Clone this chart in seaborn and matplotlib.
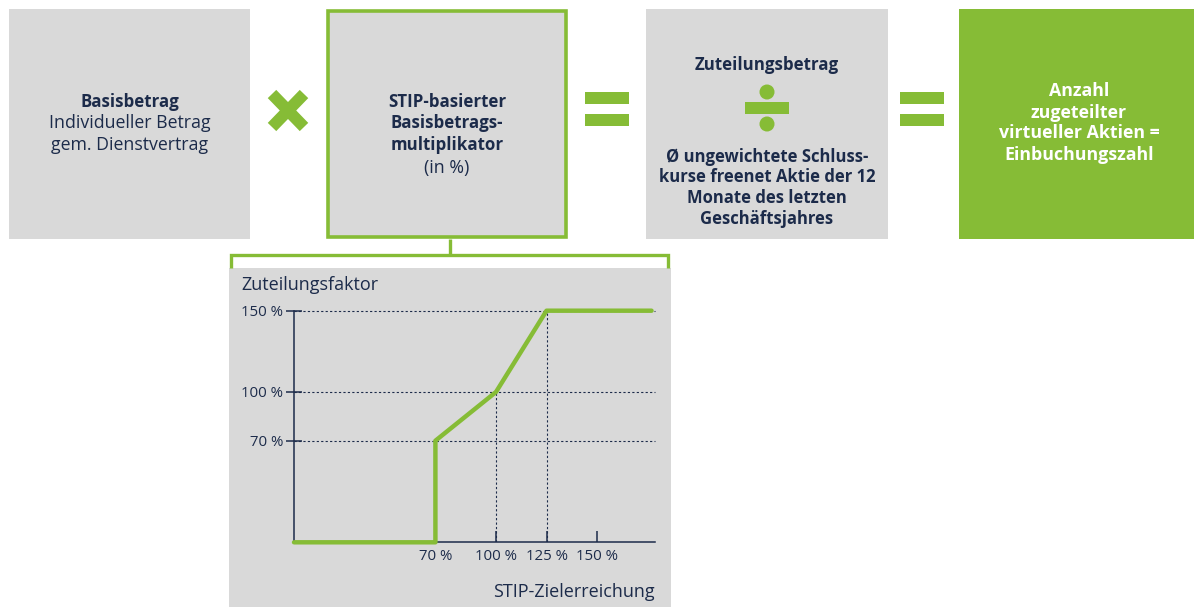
import numpy as np
import matplotlib
matplotlib.use("Agg")
import matplotlib.pyplot as plt
import seaborn as sns
from matplotlib.patches import Rectangle, Circle

# ---------------- data ----------------
x_achievement = [0, 70, 70, 100, 125, 177]      # STIP-Zielerreichung (%)
y_factor = [0, 0, 70, 100, 150, 150]            # Zuteilungsfaktor (%)
x_tick_values = [70, 100, 125, 150]
x_tick_labels = ["70 %", "100 %", "125 %", "150 %"]
y_tick_values = [70, 100, 150]
y_tick_labels = ["70 %", "100 %", "150 %"]
drop_x = [100, 125]
drop_y = [100, 150]

# ---------------- style ----------------
sns.set_theme(style="white")
plt.rcParams["font.family"] = ["Open Sans", "DejaVu Sans"]
GREEN = "#86bc36"
GRAY = "#d9d9d9"
NAVY = "#1c2b4a"

W, H = 1194, 607
fig = plt.figure(figsize=(W / 100, H / 100), dpi=100)
fig.patch.set_facecolor("white")

# background / diagram layer in pixel coordinates
bg = fig.add_axes([0, 0, 1, 1], zorder=0)
bg.set_xlim(0, W)
bg.set_ylim(H, 0)
bg.axis("off")

# boxes
bg.add_patch(Rectangle((9, 9), 241, 230, facecolor=GRAY, edgecolor="none"))
bg.add_patch(Rectangle((328, 11), 238, 226, facecolor=GRAY, edgecolor=GREEN, linewidth=2.6))
bg.add_patch(Rectangle((646, 9), 242, 230, facecolor=GRAY, edgecolor="none"))
bg.add_patch(Rectangle((959, 9), 235, 230, facecolor=GREEN, edgecolor="none"))

# multiply sign
bg.plot([272, 304], [94, 127], color=GREEN, lw=8.5, solid_capstyle="butt")
bg.plot([272, 304], [127, 94], color=GREEN, lw=8.5, solid_capstyle="butt")

# equals signs
for x0 in (585, 900):
    bg.add_patch(Rectangle((x0, 92), 44, 12, facecolor=GREEN, edgecolor="none"))
    bg.add_patch(Rectangle((x0, 114), 44, 12, facecolor=GREEN, edgecolor="none"))

# division sign
bg.add_patch(Rectangle((745, 102), 44, 12, facecolor=GREEN, edgecolor="none"))
bg.add_patch(Circle((767, 92), 7.5, facecolor=GREEN, edgecolor="none"))
bg.add_patch(Circle((767, 124), 7.5, facecolor=GREEN, edgecolor="none"))

# connector bracket
bg.plot([450, 450], [239, 255], color=GREEN, lw=2.4, solid_capstyle="butt")
bg.plot([231, 231, 668, 668], [268, 255, 255, 268], color=GREEN, lw=2.4,
        solid_joinstyle="miter", solid_capstyle="butt")

# chart panel
bg.add_patch(Rectangle((229, 268), 442, 339, facecolor=GRAY, edgecolor="none"))

FB = 12.2   # bold size
FR = 12.8   # regular size
# box 1 text
bg.text(130, 102, "Basisbetrag", ha="center", va="center", fontsize=FB, fontweight="bold", color=NAVY)
bg.text(130, 123.5, "Individueller Betrag", ha="center", va="center", fontsize=FR, color=NAVY)
bg.text(130, 145, "gem. Dienstvertrag", ha="center", va="center", fontsize=FR, color=NAVY)

# box 2 text
bg.text(447, 102, "STIP-basierter", ha="center", va="center", fontsize=FB, fontweight="bold", color=NAVY)
bg.text(447, 123.5, "Basisbetrags-", ha="center", va="center", fontsize=FB, fontweight="bold", color=NAVY)
bg.text(447, 145, "multiplikator", ha="center", va="center", fontsize=FB, fontweight="bold", color=NAVY)
bg.text(447, 168, "(in %)", ha="center", va="center", fontsize=FR, color=NAVY)

# box 3 text
bg.text(767, 65, "Zuteilungsbetrag", ha="center", va="center", fontsize=FB, fontweight="bold", color=NAVY)
for yy, s in zip([157, 177.5, 198, 218.5],
                 ["Ø ungewichtete Schluss-", "kurse freenet Aktie der 12",
                  "Monate des letzten", "Geschäftsjahres"]):
    bg.text(767, yy, s, ha="center", va="center", fontsize=12, fontweight="bold", color=NAVY)

# box 4 text
for yy, s in zip([91.5, 112.5, 133.5, 154.5],
                 ["Anzahl", "zugeteilter", "virtueller Aktien =", "Einbuchungszahl"]):
    bg.text(1079, yy, s, ha="center", va="center", fontsize=12.8, fontweight="bold", color="white")

# chart labels
bg.text(241, 285, "Zuteilungsfaktor", ha="left", va="center", fontsize=13, color=NAVY)
bg.text(655, 592, "STIP-Zielerreichung", ha="right", va="center", fontsize=13, color=NAVY)

# ---------------- chart ----------------
x0p, x1p = 294, 655
y0p, y1p = 542.3, 310.7
ax = fig.add_axes([x0p / W, (H - y0p) / H, (x1p - x0p) / W, (y0p - y1p) / H], zorder=1)
ax.set_facecolor("none")


def fwd(v):
    v = np.asarray(v, dtype=float)
    return np.where(v < 70, 7.5 + v * 62.5 / 70, v)


def inv(s):
    s = np.asarray(s, dtype=float)
    return np.where(s < 70, (s - 7.5) * 70 / 62.5, s)


ax.set_yscale("function", functions=(fwd, inv))

for yv in y_tick_values:
    ax.axhline(yv, color=NAVY, lw=0.8, ls=(0, (2, 2)), zorder=1)
ax.vlines(drop_x, 0, drop_y, color=NAVY, lw=0.8, linestyles=[(0, (2, 2))], zorder=1)

sns.lineplot(x=x_achievement, y=y_factor, ax=ax, color=GREEN, lw=3.2,
             estimator=None, sort=False, zorder=3)
for ln in ax.lines:
    ln.set_clip_on(False)

ax.set_xlim(0, 178.7)
ax.set_ylim(0, 150)
ax.set_xticks(x_tick_values)
ax.set_xticklabels(x_tick_labels)
ax.set_yticks(y_tick_values)
ax.set_yticklabels(y_tick_labels)
ax.tick_params(axis="x", direction="in", length=8, width=1.1, color=NAVY,
               labelcolor=NAVY, labelsize=10.8, pad=5, bottom=True)
ax.tick_params(axis="y", direction="inout", length=12, width=1.1, color=NAVY,
               labelcolor=NAVY, labelsize=10.8, pad=2, left=True)
for side in ("top", "right"):
    ax.spines[side].set_visible(False)
for side in ("left", "bottom"):
    ax.spines[side].set_color(NAVY)
    ax.spines[side].set_linewidth(1.1)
ax.set_xlabel("")
ax.set_ylabel("")

fig.savefig("out.png", dpi=100, facecolor="white")
